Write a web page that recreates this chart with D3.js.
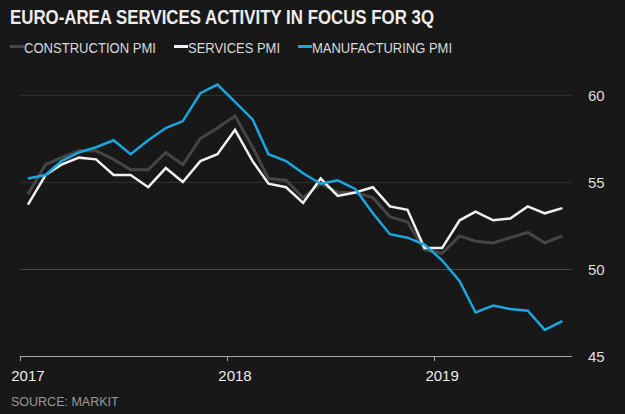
<!DOCTYPE html>
<html>
  <head>
    <title>Euro-area PMI</title>
    <script src="https://d3js.org/d3.v7.min.js"></script>
    <style>
      body, html {
        margin: 0;
        padding: 0;
        width: 100%;
        height: 100%;
        overflow: hidden;
        background: #181818;
      }
      #chart {
        display: block;
      }
      text {
        font-family: 'Liberation Sans', Arial, sans-serif;
      }
    </style>
  </head>
  <body>
    <svg id="chart" width="625" height="414"></svg>
    <script>
      // monthly readings, Jan 2017 - Aug 2019
      const startMonth = "2017-01";
      const construction = [54.3, 56.0, 56.4, 56.8, 56.8, 56.3, 55.7, 55.7, 56.7, 56.0, 57.5, 58.1,
                            58.8, 57.0, 55.2, 55.1, 54.1, 54.9, 54.4, 54.4, 54.1, 53.0, 52.7, 51.1,
                            50.9, 51.9, 51.6, 51.5, 51.8, 52.1, 51.5, 51.9];
      const services = [53.7, 55.4, 56.0, 56.4, 56.3, 55.4, 55.4, 54.7, 55.8, 55.0, 56.2, 56.6,
                        58.0, 56.2, 54.9, 54.7, 53.8, 55.2, 54.2, 54.4, 54.7, 53.6, 53.4, 51.2,
                        51.2, 52.8, 53.3, 52.8, 52.9, 53.6, 53.2, 53.5];
      const manufacturing = [55.2, 55.4, 56.2, 56.7, 57.0, 57.4, 56.6, 57.4, 58.1, 58.5, 60.1, 60.6,
                             59.6, 58.6, 56.6, 56.2, 55.5, 54.9, 55.1, 54.6, 53.2, 52.0, 51.8, 51.4,
                             50.5, 49.3, 47.5, 47.9, 47.7, 47.6, 46.5, 47.0];
      const yTicks = [45, 50, 55, 60];
      const yearTicks = [2017, 2018, 2019];

      const svg = d3.select("#chart");
      const parseMonth = d3.timeParse("%Y-%m");
      const first = parseMonth(startMonth);
      const dates = construction.map((_, i) => d3.timeDay.offset(d3.timeMonth.offset(first, i), 14));

      const x = d3.scaleTime()
        .domain([new Date(2017, 0, 1), new Date(2019, 8, 1)])
        .range([20, 572]);
      const y = d3.scaleLinear()
        .domain([45, 60])
        .range([356, 95]);

      // title
      svg.append("text")
        .attr("x", 10).attr("y", 24)
        .attr("fill", "#ececec")
        .style("font-size", "19.5px")
        .style("font-weight", "bold")
        .attr("textLength", 424)
        .attr("lengthAdjust", "spacingAndGlyphs")
        .text("EURO-AREA SERVICES ACTIVITY IN FOCUS FOR 3Q");

      // legend
      const legend = [
        { label: "CONSTRUCTION PMI", color: "#474747", x: 10, w: 132 },
        { label: "SERVICES  PMI", color: "#f0f0f0", x: 174, w: 92 },
        { label: "MANUFACTURING  PMI", color: "#1aa6df", x: 298, w: 140 }
      ];
      const lg = svg.append("g");
      legend.forEach(d => {
        lg.append("line")
          .attr("x1", d.x).attr("x2", d.x + 14)
          .attr("y1", 46.5).attr("y2", 46.5)
          .attr("stroke", d.color).attr("stroke-width", 3);
        lg.append("text")
          .attr("x", d.x + 14).attr("y", 52.5)
          .attr("fill", "#d8d8d8")
          .style("font-size", "15px")
          .attr("textLength", d.w)
          .attr("lengthAdjust", "spacingAndGlyphs")
          .text(d.label);
      });

      // gridlines + right labels
      const grid = svg.append("g");
      yTicks.forEach(t => {
        if (t !== 45) {
          grid.append("line")
            .attr("x1", 20).attr("x2", 572)
            .attr("y1", y(t) + 0.5).attr("y2", y(t) + 0.5)
            .attr("stroke", t === 50 ? "#474747" : "#2e2e2e")
            .attr("stroke-width", 1);
        }
        grid.append("text")
          .attr("x", 588).attr("y", y(t) + 5.5)
          .attr("fill", "#dedede")
          .style("font-size", "15px")
          .text(t);
      });

      // lines
      const line = d3.line()
        .x((d, i) => x(dates[i]))
        .y(d => y(d));
      const series = [
        { values: construction, color: "#454545", width: 3 },
        { values: services, color: "#f0f0f0", width: 2.5 },
        { values: manufacturing, color: "#1aa6df", width: 2.5 }
      ];
      svg.append("g").selectAll("path")
        .data(series)
        .join("path")
        .attr("d", d => line(d.values))
        .attr("fill", "none")
        .attr("stroke", d => d.color)
        .attr("stroke-width", d => d.width)
        .attr("stroke-linejoin", "miter");

      // bottom axis
      const ax = svg.append("g");
      ax.append("line")
        .attr("x1", 20).attr("x2", 572)
        .attr("y1", 356.5).attr("y2", 356.5)
        .attr("stroke", "#a8a8a8");
      yearTicks.forEach(yr => {
        const tx = Math.round(x(new Date(yr, 0, 1))) + 0.5;
        ax.append("line")
          .attr("x1", tx).attr("x2", tx)
          .attr("y1", 356).attr("y2", 361)
          .attr("stroke", "#a8a8a8");
        ax.append("text")
          .attr("x", x(new Date(yr, 0, 15))).attr("y", 380.5)
          .attr("text-anchor", "middle")
          .attr("fill", "#ececec")
          .style("font-size", "15px")
          .text(yr);
      });

      svg.append("text")
        .attr("x", 11).attr("y", 406)
        .attr("fill", "#9a9a9a")
        .style("font-size", "12.5px")
        .text("SOURCE: MARKIT");
    </script>
  </body>
</html>
